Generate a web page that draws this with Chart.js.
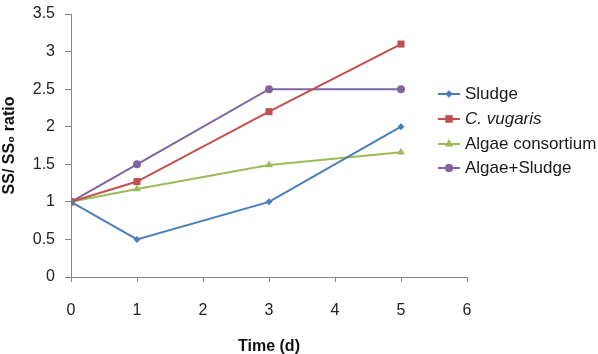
<!DOCTYPE html>
<html>
<head>
<meta charset="utf-8">
<script src="https://cdn.jsdelivr.net/npm/chart.js@4/dist/chart.umd.min.js"></script>
<style>
html,body{margin:0;padding:0;background:#fff;}
#wrap{width:598px;height:354px;position:relative;}
</style>
</head>
<body>
<div id="wrap"><canvas id="c" width="598" height="354"></canvas></div>
<script>
const timeDays = [0, 1, 3, 5];
const seriesNames = ['Sludge', 'C. vugaris', 'Algae consortium', 'Algae+Sludge'];
const sludge = [1, 0.5, 1, 2];
const cVugaris = [1, 1.27, 2.2, 3.1];
const algaeConsortium = [1, 1.17, 1.49, 1.66];
const algaeSludge = [1, 1.5, 2.5, 2.5];
const xTicks = [0, 1, 2, 3, 4, 5, 6];
const yTicks = [0, 0.5, 1, 1.5, 2, 2.5, 3, 3.5];

const colors = ['#4A7EBB', '#C0504D', '#9BBB59', '#8064A2'];
const markers = ['rectRot', 'rect', 'triangle', 'circle'];
const radii = [3.5, 5, 4.5, 4];
const values = [sludge, cVugaris, algaeConsortium, algaeSludge];

const datasets = values.map((vals, i) => ({
  label: seriesNames[i],
  data: vals.map((v, j) => ({x: timeDays[j], y: v})),
  borderColor: colors[i],
  backgroundColor: colors[i],
  pointStyle: markers[i],
  pointRadius: radii[i],
  pointHoverRadius: radii[i],
  borderWidth: 2,
  pointBorderWidth: 0,
  tension: 0,
  fill: false
}));
const FONT = '"Liberation Sans", Arial, sans-serif';

const legendPlugin = {
  id: 'customLegend',
  afterDraw(chart) {
    const ctx = chart.ctx;
    const x0 = 438, x1 = 460, tx = 465;
    const ys = [94, 119, 144, 168];
    chart.data.datasets.forEach((ds, i) => {
      const y = ys[i];
      ctx.save();
      ctx.strokeStyle = ds.borderColor;
      ctx.lineWidth = 2;
      ctx.beginPath();
      ctx.moveTo(x0, y); ctx.lineTo(x1, y); ctx.stroke();
      ctx.fillStyle = ds.borderColor;
      ctx.strokeStyle = ds.borderColor;
      ctx.lineWidth = 0.5;
      Chart.helpers.drawPoint(ctx, {pointStyle: ds.pointStyle, radius: ds.pointRadius, rotation: 0, borderWidth: 0.5}, (x0 + x1) / 2, y);
      ctx.fillStyle = '#1a1a1a';
      ctx.font = (i === 1 ? 'italic ' : '') + '17px ' + FONT;
      ctx.textBaseline = 'middle';
      ctx.textAlign = 'left';
      ctx.fillText(ds.label, tx, y);
      ctx.restore();
    });
  }
};

new Chart(document.getElementById('c'), {
  type: 'line',
  data: {datasets},
  plugins: [legendPlugin],
  options: {
    responsive: false,
    animation: false,
    layout: {padding: {top: 14, right: 131, left: 0, bottom: 0}},
    plugins: {legend: {display: false}, tooltip: {enabled: false}},
    scales: {
      x: {
        type: 'linear',
        min: 0, max: 6,
        afterFit(s) { s.height = 77; s.paddingLeft = 0; s.paddingRight = 0; },
        afterBuildTicks(s) { s.ticks = xTicks.map(v => ({value: v})); },
        grid: {drawOnChartArea: false, drawTicks: true, tickLength: 5, color: '#868686'},
        border: {color: '#868686', width: 1},
        ticks: {padding: 19, color: '#222', font: {family: FONT, size: 16}, callback: v => String(v)},
        title: {display: true, text: 'Time (d)', color: '#111', font: {family: FONT, size: 16, weight: 'bold', lineHeight: 1}, padding: {top: 0, bottom: -1}}
      },
      y: {
        type: 'linear',
        min: 0, max: 3.5,
        afterFit(s) { s.width = 71; s.paddingTop = 0; s.paddingBottom = 0; },
        afterBuildTicks(s) { s.ticks = yTicks.map(v => ({value: v})); },
        grid: {drawOnChartArea: false, drawTicks: true, tickLength: 6, color: '#868686'},
        border: {color: '#868686', width: 1},
        ticks: {padding: 10, color: '#222', font: {family: FONT, size: 16}, callback: v => String(v)},
        title: {display: true, text: 'SS/ SS₀ ratio', color: '#111', font: {family: FONT, size: 16, weight: 'bold', lineHeight: 1.2}, padding: {top: 0, bottom: 0}}
      }
    }
  }
});
</script>
</body>
</html>
